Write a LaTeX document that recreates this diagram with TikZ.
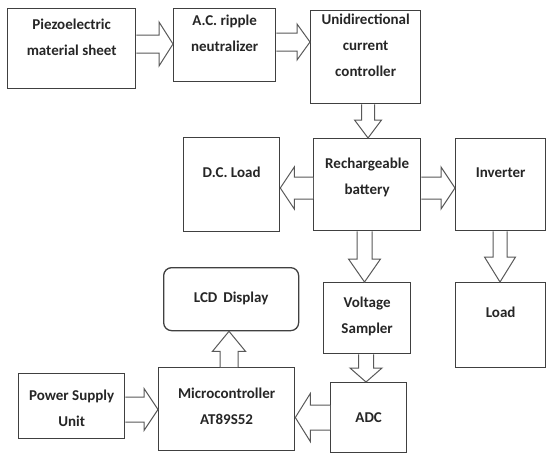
\documentclass[tikz,border=0pt]{standalone}
\usepackage{fontspec}
\setmainfont{Carlito}
\usetikzlibrary{calc}
\tikzset{
  box/.style={draw=black!75, line width=1.3pt, fill=white, inner sep=0pt},
  txt/.style={font=\bfseries\fontsize{15}{26}\selectfont, text=black!85, align=center, inner sep=0pt},
  hol/.style={draw=black!65, line width=1pt, fill=white, line join=miter},
}
% horizontal hollow arrow: tail point, tip point, shaft half, head half, head length
\newcommand\harr[5]{%
  \draw[hol] let \p1=(#1), \p2=(#2), \n1={sign(\x2-\x1)} in
    (\x1,\y1+#3) -- (\x2-\n1*#5,\y1+#3) -- (\x2-\n1*#5,\y1+#4) -- (\x2,\y1)
    -- (\x2-\n1*#5,\y1-#4) -- (\x2-\n1*#5,\y1-#3) -- (\x1,\y1-#3);}
% vertical hollow arrow
\newcommand\varr[5]{%
  \draw[hol] let \p1=(#1), \p2=(#2), \n1={sign(\y2-\y1)} in
    (\x1+#3,\y1) -- (\x1+#3,\y2-\n1*#5) -- (\x1+#4,\y2-\n1*#5) -- (\x1,\y2)
    -- (\x1-#4,\y2-\n1*#5) -- (\x1-#3,\y2-\n1*#5) -- (\x1-#3,\y1);}
\begin{document}
\begin{tikzpicture}[x=1pt,y=-1pt]
\useasboundingbox[fill=white] (0,0) rectangle (548,455);
% boxes
\node[box, anchor=north west, minimum width=128pt, minimum height=80pt] (piezo) at (7,8) {};
\node[box, anchor=north west, minimum width=102pt, minimum height=73pt] (acr) at (173,8) {};
\node[box, anchor=north west, minimum width=110pt, minimum height=93pt] (uni) at (310,10) {};
\node[box, anchor=north west, minimum width=107pt, minimum height=92pt] (bat) at (313,138) {};
\node[box, anchor=north west, minimum width=96pt, minimum height=94pt] (dcl) at (183,137) {};
\node[box, anchor=north west, minimum width=90pt, minimum height=92pt] (inv) at (455,138) {};
\node[box, anchor=north west, minimum width=87pt, minimum height=71pt] (vs) at (323,282) {};
\node[box, anchor=north west, minimum width=90pt, minimum height=85pt] (load) at (455,282) {};
\node[box, anchor=north west, minimum width=76pt, minimum height=70pt] (adc) at (330,382) {};
\node[box, anchor=north west, minimum width=136pt, minimum height=83pt] (mcu) at (158,367) {};
\node[box, anchor=north west, minimum width=135pt, minimum height=63pt, rounded corners=8pt] (lcd) at (163,267) {};
\node[box, anchor=north west, minimum width=106pt, minimum height=65pt] (psu) at (18,373) {};
% texts
\node[txt] at (piezo.north |- 0,37.5) {Piezoelectric\\material sheet};
\node[txt] at (acr.north |- 0,33) {A.C. ripple\\neutralizer};
\node[txt] at (uni.north |- 0,45) {Unidirectional\\current\\controller};
\node[txt] at (bat.north |- 0,177) {Rechargeable\\battery};
\node[txt] at (dcl.north |- 0,172) {D.C. Load};
\node[txt] at (inv.north |- 0,173) {Inverter};
\node[txt] at (vs.north |- 0,316) {Voltage\\Sampler};
\node[txt] at (load.north |- 0,312) {Load};
\node[txt] at (adc.north |- 0,418) {ADC};
\node[txt] at (mcu.north |- 0,406) {Microcontroller\\AT89S52};
\node[txt] at (lcd.north |- 0,298) {LCD\, Display};
\node[txt] at (psu.north |- 0,408) {Power Supply\\Unit};
% arrows
\harr{piezo.east |- 0,44}{acr.west |- 0,44}{9pt}{22pt}{14pt}
\harr{acr.east |- 0,42}{uni.west |- 0,42}{9pt}{18pt}{13pt}
\varr{uni.south -| 368,0}{bat.north -| 368,0}{6.5pt}{13.5pt}{18pt}
\harr{bat.west |- 0,188}{dcl.east |- 0,188}{11pt}{21pt}{14pt}
\harr{bat.east |- 0,188}{inv.west |- 0,188}{11pt}{21pt}{14pt}
\varr{bat.south -| 364.5,0}{vs.north -| 364.5,0}{7.5pt}{16pt}{23pt}
\varr{inv.south -| 500,0}{load.north -| 500,0}{7pt}{15.5pt}{25pt}
\varr{vs.south -| 366,0}{adc.north -| 366,0}{7.5pt}{16pt}{14pt}
\varr{mcu.north -| 229,0}{lcd.south -| 229,0}{9pt}{16.5pt}{20pt}
\harr{adc.west |- 0,417.5}{mcu.east |- 0,417.5}{12.5pt}{24pt}{15pt}
\harr{psu.east |- 0,409.5}{mcu.west |- 0,409.5}{12.5pt}{21pt}{14pt}
\end{tikzpicture}
\end{document}
